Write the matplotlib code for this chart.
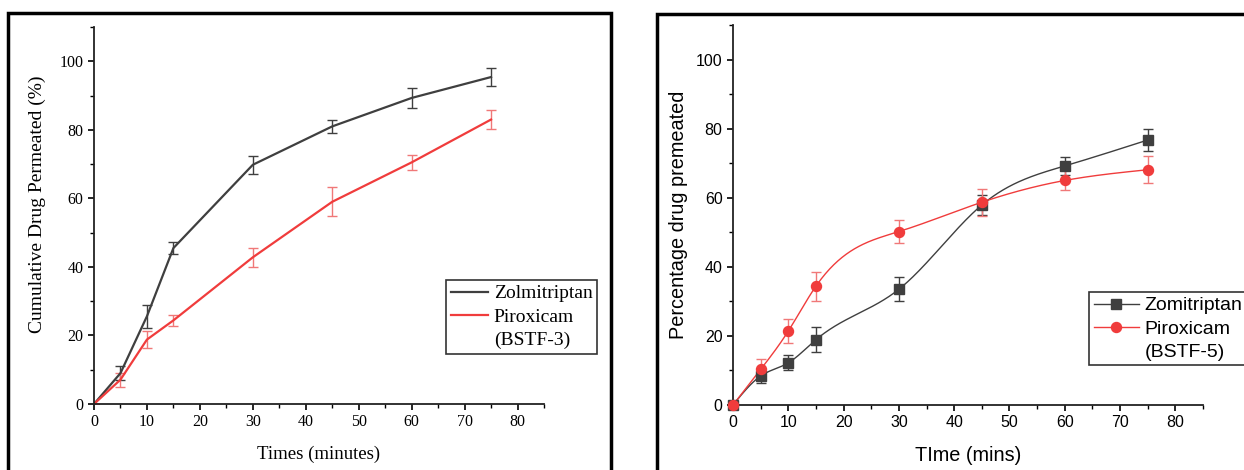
import numpy as np
import matplotlib.pyplot as plt
from matplotlib.patches import Rectangle
from matplotlib.lines import Line2D
from matplotlib.ticker import MultipleLocator

# time points (min)
time = [0, 5, 10, 15, 30, 45, 60, 75]

# left panel: BSTF-3
zol_3 = [0, 9.0, 25.6, 45.5, 69.8, 81.0, 89.3, 95.4]
zol_3_err = [0, 2.0, 3.3, 1.7, 2.6, 2.0, 3.0, 2.6]
pir_3 = [0, 7.1, 18.8, 24.4, 42.8, 59.0, 70.5, 83.0]
pir_3_err = [0, 2.0, 2.4, 1.7, 2.7, 4.2, 2.2, 2.8]

# right panel: BSTF-5
zol_5 = [0, 8.4, 12.2, 18.9, 33.5, 57.9, 69.2, 76.7]
zol_5_err = [0, 2.0, 2.2, 3.6, 3.5, 3.0, 2.5, 3.2]
pir_5 = [0, 10.3, 21.4, 34.4, 50.2, 58.7, 65.0, 68.1]
pir_5_err = [0, 2.9, 3.5, 4.2, 3.3, 3.9, 2.9, 3.9]

DARK = '#3f3f3f'
RED = '#f03c3c'
RED_ERR = '#f07878'


def spline(x, y, n=400):
    # natural cubic spline, used only for the smooth connecting line
    x = np.asarray(x, float)
    y = np.asarray(y, float)
    k = len(x)
    h = np.diff(x)
    A = np.zeros((k, k))
    b = np.zeros(k)
    A[0, 0] = A[-1, -1] = 1
    for i in range(1, k - 1):
        A[i, i - 1] = h[i - 1]
        A[i, i] = 2 * (h[i - 1] + h[i])
        A[i, i + 1] = h[i]
        b[i] = 6 * ((y[i + 1] - y[i]) / h[i] - (y[i] - y[i - 1]) / h[i - 1])
    M = np.linalg.solve(A, b)
    xs = np.linspace(x[0], x[-1], n)
    j = np.clip(np.searchsorted(x, xs) - 1, 0, k - 2)
    t0 = x[j + 1] - xs
    t1 = xs - x[j]
    hj = h[j]
    ys = (M[j] * t0**3 + M[j + 1] * t1**3) / (6 * hj) \
        + (y[j] / hj - M[j] * hj / 6) * t0 + (y[j + 1] / hj - M[j + 1] * hj / 6) * t1
    return xs, ys


def style_axes(ax, family, size):
    ax.set_xlim(0, 85)
    ax.set_ylim(0, 110)
    ax.spines['top'].set_visible(False)
    ax.spines['right'].set_visible(False)
    for s in ['left', 'bottom']:
        ax.spines[s].set_linewidth(1.3)
        ax.spines[s].set_color('#222222')
    ax.xaxis.set_major_locator(MultipleLocator(10))
    ax.xaxis.set_minor_locator(MultipleLocator(5))
    ax.yaxis.set_minor_locator(MultipleLocator(10))
    ax.set_yticks([0, 20, 40, 60, 80, 100])
    ax.tick_params(which='major', direction='out', length=4.5, width=1.2, labelsize=size, pad=3)
    ax.tick_params(which='minor', direction='out', length=2.7, width=1.0)
    for lab in ax.get_xticklabels() + ax.get_yticklabels():
        lab.set_family(family)


def add_legend(ax, handles, labels, x0, y0, family, hlen):
    # second line of the Piroxicam label gets an empty handle, as in Origin
    handles = handles + [Line2D([], [], color='none')]
    leg = ax.legend(handles, labels, loc='upper left', bbox_to_anchor=(x0 / 1244, 1 - y0 / 470),
                    bbox_transform=fig.transFigure, prop={'family': family, 'size': 14},
                    frameon=True, fancybox=False, edgecolor='#333333', framealpha=1,
                    handlelength=hlen, handletextpad=0.3, borderpad=0.25,
                    labelspacing=0.28, borderaxespad=0)
    leg.get_frame().set_linewidth(1.2)
    return leg


fig = plt.figure(figsize=(12.44, 4.70), dpi=100)

# outer frames around each panel
fig.add_artist(Rectangle((8 / 1244, -0.05), 603 / 1244, 1.05 - 13 / 470,
                         transform=fig.transFigure, fill=False, lw=2.5, ec='black', clip_on=False))
fig.add_artist(Rectangle((657 / 1244, -0.05), 0.6, 1.05 - 14 / 470,
                         transform=fig.transFigure, fill=False, lw=2.5, ec='black', clip_on=False))

# left panel
ax1 = fig.add_axes([94 / 1244, 1 - 404 / 470, 450 / 1244, 377 / 470])
ax1.errorbar(time, zol_3, yerr=zol_3_err, color=DARK, lw=1.6, ecolor=DARK,
             elinewidth=1.0, capsize=3.5, capthick=1.0)
ax1.errorbar(time, pir_3, yerr=pir_3_err, color=RED, lw=1.6, ecolor=RED_ERR,
             elinewidth=1.0, capsize=3.5, capthick=1.0)
style_axes(ax1, 'Liberation Serif', 11.5)
ax1.set_xlabel('Times (minutes)', family='Liberation Serif', fontsize=13.5, labelpad=11)
ax1.set_ylabel('Cumulative Drug Permeated (%)', family='Liberation Serif', fontsize=14, labelpad=10)
ax1.yaxis.label.set_y(0.53)
add_legend(ax1, [Line2D([], [], color=DARK, lw=1.6), Line2D([], [], color=RED, lw=1.6)],
           ['Zolmitriptan', 'Piroxicam', '(BSTF-3)'], 446, 280, 'Liberation Serif', 1.9)

# right panel
ax2 = fig.add_axes([733 / 1244, 1 - 405 / 470, 470 / 1244, 380 / 470])
xs, ys = spline(time, zol_5)
ax2.plot(xs, ys, color=DARK, lw=1.0)
xs, ys = spline(time, pir_5)
ax2.plot(xs, ys, color=RED, lw=1.0)
ax2.errorbar(time, zol_5, yerr=zol_5_err, fmt='none', ecolor=DARK, elinewidth=1.0,
             capsize=3.5, capthick=1.0)
ax2.errorbar(time, pir_5, yerr=pir_5_err, fmt='none', ecolor=RED_ERR, elinewidth=1.0,
             capsize=3.5, capthick=1.0)
ax2.plot(time, zol_5, 's', color=DARK, ms=6.5, clip_on=False, zorder=3)
ax2.plot(time, pir_5, 'o', color=RED, ms=7.2, clip_on=False, zorder=4)
style_axes(ax2, 'Liberation Sans', 11.5)
ax2.set_xlabel('TIme (mins)', family='Liberation Sans', fontsize=14.3, labelpad=11)
ax2.set_ylabel('Percentage drug premeated', family='Liberation Sans', fontsize=14.3, labelpad=6)
add_legend(ax2, [Line2D([], [], color=DARK, lw=1.0, marker='s', ms=6.5),
                 Line2D([], [], color=RED, lw=1.0, marker='o', ms=7.2)],
           ['Zomitriptan', 'Piroxicam', '(BSTF-5)'], 1089, 292, 'Liberation Sans', 2.3)

fig.savefig('out.png', dpi=100)
